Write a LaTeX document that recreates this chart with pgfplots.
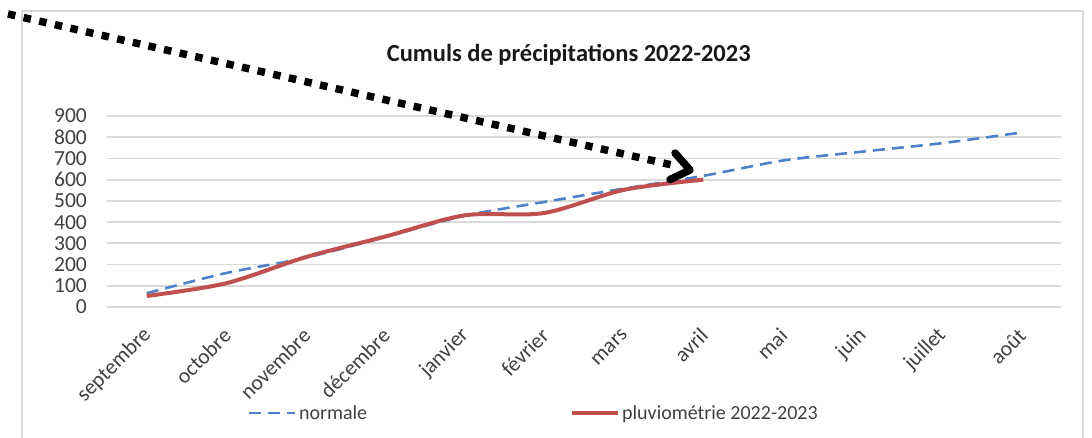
\documentclass[border=0pt]{standalone}
\usepackage{pgfplots}
\pgfplotsset{compat=1.18}
\usepackage{fontspec}
\setmainfont{Carlito}
\definecolor{normblue}{HTML}{4F81C8}
\definecolor{pluvred}{HTML}{C0504D}
\definecolor{gridgray}{HTML}{D9D9D9}
\definecolor{txtgray}{HTML}{404040}
\begin{document}
\begin{tikzpicture}
\begin{axis}[
  scale only axis, width=954pt, height=191pt,
  xmin=-0.5, xmax=11.5, ymin=0, ymax=900,
  xtick={0,...,11},
  xticklabels={septembre,octobre,novembre,décembre,janvier,février,mars,avril,mai,juin,juillet,août},
  ytick={0,100,...,900},
  ymajorgrids, grid style={gridgray, line width=1.8pt},
  axis line style={draw=none}, major tick length=0pt,
  tick label style={font=\fontsize{21.5pt}{23pt}\selectfont, text=txtgray, inner sep=0pt},
  /pgf/number format/assume math mode=true,
  yticklabel style={anchor=east, xshift=-20pt},
  xticklabel style={xshift=1pt, yshift=-25pt, rotate=45, anchor=east},
  clip=false,
  title={Cumuls de précipitations 2022-2023},
  title style={font=\bfseries\fontsize{24.5pt}{26pt}\selectfont, text=black!90, at={(0.484,1.288)}, anchor=center},
  legend columns=2,
  legend style={draw=none, fill=none, at={(0.1475,-0.555)}, anchor=west, inner sep=0pt,
    font=\fontsize{20pt}{22pt}\selectfont, text=txtgray,
    /tikz/every even column/.append style={column sep=200pt},
    nodes={inner sep=2.5pt}},
  legend image code/.code={\draw[#1] (0pt,0pt) -- (46pt,0pt);},
]
\addplot[normblue, line width=2.6pt, dash pattern=on 12pt off 7pt, smooth, tension=0.5]
  coordinates {(0,65)(1,160)(2,232)(3,330)(4,430)(5,495)(6,558)(7,618)(8,690)(9,732)(10,772)(11,822)};
\addlegendentry{normale}
\addplot[pluvred, line width=4pt, smooth, tension=0.5]
  coordinates {(0,52)(1,112)(2,235)(3,332)(4,432)(5,443)(6,552)(7,600)};
\addlegendentry{pluviométrie 2022-2023}
\end{axis}
\draw[gridgray, line width=1.5pt] (-85pt,-140pt) rectangle (976pt,296pt);
\draw[black, line width=7.5pt, dash pattern=on 7.5pt off 8.5pt] (-99pt,293pt) -- (565pt,142pt);
\draw[black, line width=7.5pt, line cap=round, line join=round] (568pt,154pt) -- (583pt,137pt) -- (563pt,127.5pt);
\pgfresetboundingbox
\path[use as bounding box] (-107pt,-130pt) rectangle (985pt,307pt);
\end{tikzpicture}
\end{document}
